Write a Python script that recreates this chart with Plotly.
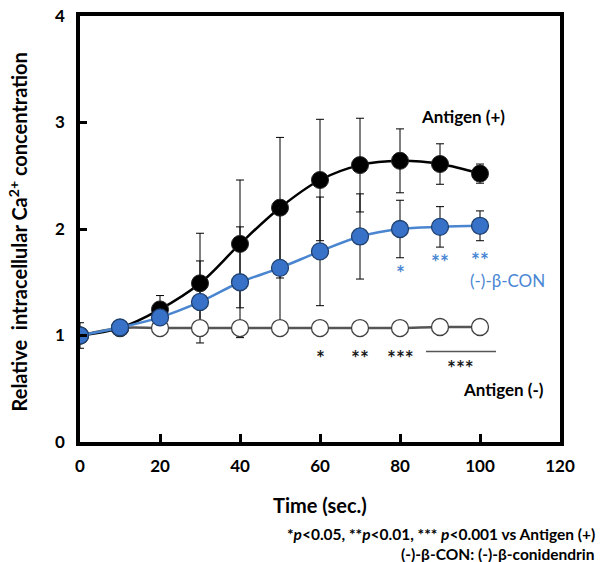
import plotly.graph_objects as go

time = [0, 10, 20, 30, 40, 50, 60, 70, 80, 90, 100]
antigen_pos = [1.00, 1.07, 1.245, 1.49, 1.86, 2.20, 2.46, 2.60, 2.64, 2.61, 2.52]
antigen_pos_err = [0.12, 0.03, 0.13, 0.47, 0.60, 0.66, 0.57, 0.44, 0.30, 0.19, 0.09]
beta_con = [1.00, 1.075, 1.17, 1.315, 1.50, 1.635, 1.79, 1.93, 2.00, 2.02, 2.03]
beta_con_err = [0.05, 0.03, 0.05, 0.385, 0.52, 0.58, 0.51, 0.40, 0.27, 0.19, 0.14]
antigen_neg = [1.00, 1.07, 1.07, 1.07, 1.07, 1.07, 1.07, 1.07, 1.07, 1.08, 1.08]
antigen_neg_err = [0.02, 0.02, 0.02, 0.02, 0.02, 0.02, 0.02, 0.02, 0.02, 0.02, 0.02]

x_ticks = [0, 20, 40, 60, 80, 100, 120]
y_ticks = [0, 1, 2, 3, 4]

FONT = "Lato"
BLUE_LINE = "#4a86d0"
BLUE_FILL = "#3771c8"
BLUE_EDGE = "#20406e"
BLUE_TEXT = "#4a86d4"

fig = go.Figure()

# error bars first (drawn under all markers)
for vals, errs in [(antigen_neg, antigen_neg_err), (antigen_pos, antigen_pos_err), (beta_con, beta_con_err)]:
    fig.add_trace(go.Scatter(
        x=time, y=vals, mode="markers",
        marker=dict(size=1, color="rgba(0,0,0,0)"),
        error_y=dict(type="data", array=errs, visible=True, color="black", thickness=1, width=4),
        showlegend=False, hoverinfo="skip"))

fig.add_trace(go.Scatter(
    x=time, y=antigen_neg, mode="lines+markers", line=dict(color="#555555", width=2.5, shape="spline"),
    marker=dict(size=17, color="white", line=dict(color="#404040", width=1.3)), showlegend=False))
fig.add_trace(go.Scatter(
    x=time, y=antigen_pos, mode="lines+markers", line=dict(color="black", width=2.5, shape="spline"),
    marker=dict(size=17, color="black", line=dict(color="#222222", width=1)), showlegend=False))
fig.add_trace(go.Scatter(
    x=time, y=beta_con, mode="lines+markers", line=dict(color=BLUE_LINE, width=2.5, shape="spline"),
    marker=dict(size=17, color=BLUE_FILL, line=dict(color=BLUE_EDGE, width=1.3)), showlegend=False))

ann = []
def txt(x, y, s, color="black", size=13, xref="x", yref="y", xanchor="center", bold=True, yshift=0, height=None):
    d = dict(x=x, y=y, xref=xref, yref=yref, text=("<b>%s</b>" % s) if bold else s,
             showarrow=False, xanchor=xanchor, yanchor="middle", yshift=yshift,
             font=dict(family=FONT, size=size, color=color))
    if height is not None:
        d["height"] = height
    ann.append(d)

txt(95.75, 3.06, "Antigen (+)", size=17)
txt(106.75, 1.52, "(-)-β-CON", color=BLUE_TEXT, size=17, bold=False)
txt(105.75, 0.49, "Antigen (-)", size=17)
STAR_SHIFT = -4
STAR_H = 14
txt(80, 1.63, "*", color=BLUE_TEXT, size=21, yshift=STAR_SHIFT, height=STAR_H)
txt(90, 1.74, "**", color=BLUE_TEXT, size=21, yshift=STAR_SHIFT, height=STAR_H)
txt(100, 1.76, "**", color=BLUE_TEXT, size=21, yshift=STAR_SHIFT, height=STAR_H)
txt(60, 0.84, "*", color="#1a1a1a", size=21, yshift=STAR_SHIFT, height=STAR_H)
txt(70, 0.84, "**", color="#1a1a1a", size=21, yshift=STAR_SHIFT, height=STAR_H)
txt(80, 0.84, "***", color="#1a1a1a", size=21, yshift=STAR_SHIFT, height=STAR_H)
txt(95, 0.74, "***", color="#1a1a1a", size=21, yshift=STAR_SHIFT, height=STAR_H)

# axis titles
ann.append(dict(x=-0.129, y=0.492, xref="paper", yref="paper", textangle=-90, showarrow=False,
                xanchor="center", yanchor="middle",
                text="<b>Relative  intracellular Ca<sup>2+</sup> concentration</b>",
                font=dict(family=FONT, size=20, color="black")))
ann.append(dict(x=0.5, y=-0.147, xref="paper", yref="paper", showarrow=False,
                xanchor="center", yanchor="middle",
                text="<b>Time (sec.)</b>",
                font=dict(family=FONT, size=20, color="black")))
# footnotes
ann.append(dict(x=1.077, y=-0.217, xref="paper", yref="paper", xanchor="right", yanchor="middle", showarrow=False,
                text="<b>*<i>p</i><0.05, **<i>p</i><0.01, *** <i>p</i><0.001 vs Antigen (+)</b>",
                font=dict(family=FONT, size=15.5, color="black")))
ann.append(dict(x=1.077, y=-0.262, xref="paper", yref="paper", xanchor="right", yanchor="middle", showarrow=False,
                text="<b>(-)-β-CON: (-)-β-conidendrin</b>",
                font=dict(family=FONT, size=15.5, color="black")))

fig.update_layout(
    width=601, height=562, margin=dict(l=80, r=41, t=16, b=120),
    paper_bgcolor="white", plot_bgcolor="white",
    font=dict(family=FONT, color="black"),
    annotations=ann,
    shapes=[dict(type="line", xref="x", yref="y", x0=86.5, x1=104, y0=0.85, y1=0.85,
                 line=dict(color="#555555", width=1.5))],
    xaxis=dict(range=[0, 120], tickvals=x_ticks, ticktext=[f"<b>{v}</b>" for v in x_ticks],
               showgrid=False, zeroline=False, showline=True, linecolor="black", linewidth=3.5, mirror=True,
               ticks="inside", ticklen=8, tickwidth=3, tickcolor="black", automargin=False,
               ticklabelstandoff=6,
               tickfont=dict(family=FONT, size=17, color="black")),
    yaxis=dict(range=[0, 4], tickvals=y_ticks, ticktext=[f"<b>{v}</b>" for v in y_ticks],
               showgrid=False, zeroline=False, showline=True, linecolor="black", linewidth=3.5, mirror=True,
               ticks="inside", ticklen=7, tickwidth=3, tickcolor="black", automargin=False,
               ticklabelstandoff=8,
               tickfont=dict(family=FONT, size=17, color="black")),
)

fig.write_html("out.html", config={"displayModeBar": False},
               post_script="document.body.style.margin='0px';")
